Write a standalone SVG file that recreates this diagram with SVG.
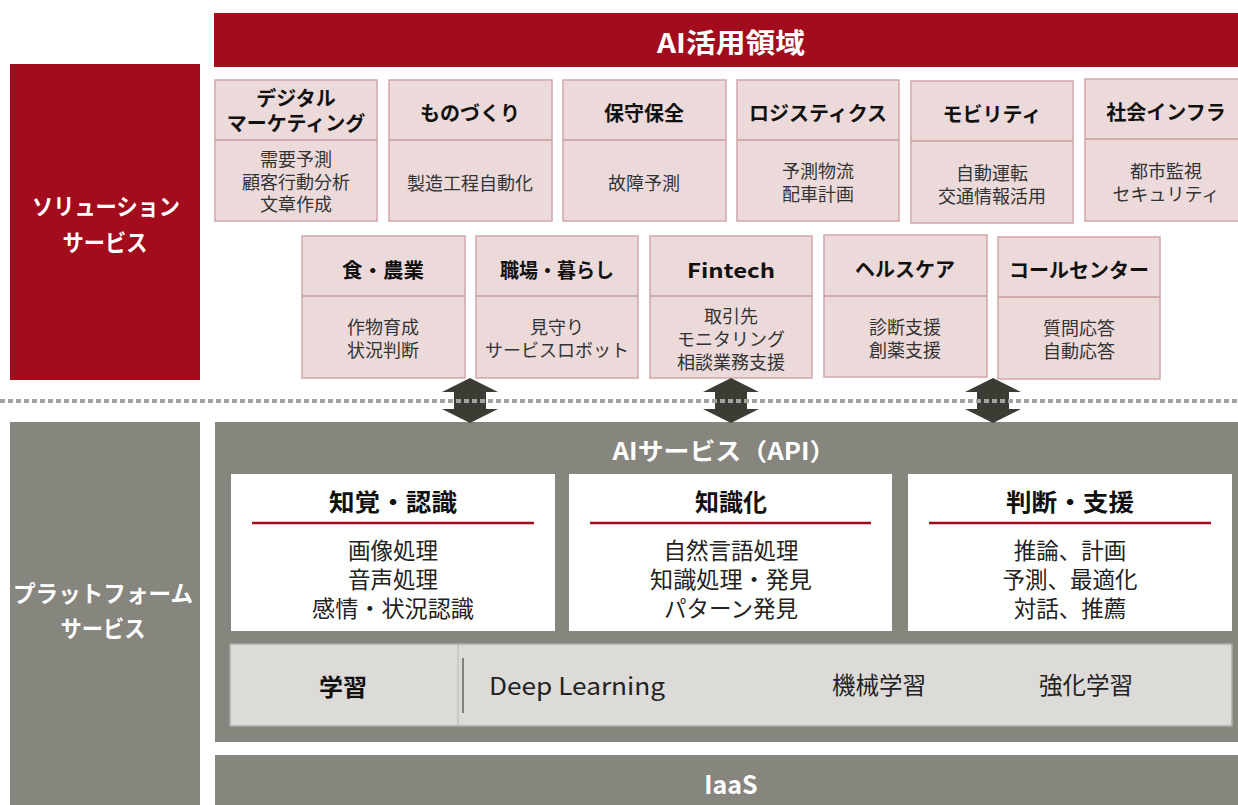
<svg xmlns="http://www.w3.org/2000/svg" width="1238" height="805" viewBox="0 0 1238 805">
<defs>
<style>
text{font-family:"Noto Sans CJK JP","Noto Sans",sans-serif;dominant-baseline:central;text-anchor:middle}
.red{fill:#a20c1c}
.gray{fill:#86857e}
.wt{fill:#fff;font-weight:700}
.card{fill:#ecdadb;stroke:#d1a6a9;stroke-width:1.5}
.div{stroke:#c99c9f;stroke-width:1.5}
.hd{fill:#111;font-weight:700;font-size:20px}
.bd{fill:#333;font-size:18px}
.wb{fill:#fff}
.rl{stroke:#a20c1c;stroke-width:2.5}
.wh{fill:#111;font-weight:700;font-size:24px}
.wi{fill:#222;font-size:22.5px}
.arrow{fill:#3c3c34}
</style>
</defs>
<rect width="1238" height="805" fill="#fff"/>

<g id="top-bar">
<rect class="red" x="214" y="13" width="1024" height="54"/>
<text class="wt" x="731" y="41" font-size="27" textLength="148" lengthAdjust="spacingAndGlyphs">AI活用領域</text>
</g>

<g id="solution-label">
<rect class="red" x="10" y="64" width="190" height="316"/>
<text class="wt" font-size="23"><tspan x="106" y="205" textLength="148" lengthAdjust="spacingAndGlyphs">ソリューション</tspan><tspan x="105" y="241" textLength="85" lengthAdjust="spacingAndGlyphs">サービス</tspan></text>
</g>

<g id="digital-marketing">
<rect class="card" x="215" y="80" width="162" height="141"/>
<line class="div" x1="215" y1="140" x2="377" y2="140"/>
<text class="hd"><tspan x="296" y="97">デジタル</tspan><tspan x="296" y="122">マーケティング</tspan></text>
<text class="bd"><tspan x="296" y="158">需要予測</tspan><tspan x="296" y="181">顧客行動分析</tspan><tspan x="296" y="203">文章作成</tspan></text>
</g>
<g id="monozukuri">
<rect class="card" x="389" y="80" width="163" height="141"/>
<line class="div" x1="389" y1="140" x2="552" y2="140"/>
<text class="hd" x="470" y="112">ものづくり</text>
<text class="bd" x="470" y="182">製造工程自動化</text>
</g>
<g id="maintenance">
<rect class="card" x="563" y="80" width="163" height="141"/>
<line class="div" x1="563" y1="140" x2="726" y2="140"/>
<text class="hd" x="644" y="112">保守保全</text>
<text class="bd" x="644" y="182">故障予測</text>
</g>
<g id="logistics">
<rect class="card" x="737" y="80" width="162" height="141"/>
<line class="div" x1="737" y1="140" x2="899" y2="140"/>
<text class="hd" x="818" y="112">ロジスティクス</text>
<text class="bd"><tspan x="818" y="170">予測物流</tspan><tspan x="818" y="193">配車計画</tspan></text>
</g>
<g id="mobility">
<rect class="card" x="911" y="81" width="162" height="142"/>
<line class="div" x1="911" y1="141" x2="1073" y2="141"/>
<text class="hd" x="992" y="113">モビリティ</text>
<text class="bd"><tspan x="992" y="172">自動運転</tspan><tspan x="992" y="195">交通情報活用</tspan></text>
</g>
<g id="social-infra">
<rect class="card" x="1085" y="79" width="162" height="142"/>
<line class="div" x1="1085" y1="139" x2="1247" y2="139"/>
<text class="hd" x="1166" y="111">社会インフラ</text>
<text class="bd"><tspan x="1166" y="170">都市監視</tspan><tspan x="1166" y="193">セキュリティ</tspan></text>
</g>

<g id="food-agri">
<rect class="card" x="302" y="236" width="163" height="142"/>
<line class="div" x1="302" y1="296" x2="465" y2="296"/>
<text class="hd" x="383" y="269" textLength="82" lengthAdjust="spacingAndGlyphs">食・農業</text>
<text class="bd"><tspan x="383" y="326">作物育成</tspan><tspan x="383" y="349">状況判断</tspan></text>
</g>
<g id="workplace">
<rect class="card" x="476" y="236" width="162" height="142"/>
<line class="div" x1="476" y1="296" x2="638" y2="296"/>
<text class="hd" x="557" y="269" textLength="114" lengthAdjust="spacingAndGlyphs">職場・暮らし</text>
<text class="bd"><tspan x="557" y="326">見守り</tspan><tspan x="557" y="349">サービスロボット</tspan></text>
</g>
<g id="fintech">
<rect class="card" x="650" y="236" width="162" height="142"/>
<line class="div" x1="650" y1="296" x2="812" y2="296"/>
<text class="hd" x="731" y="269" font-size="22" textLength="88" lengthAdjust="spacingAndGlyphs">Fintech</text>
<text class="bd"><tspan x="731" y="315">取引先</tspan><tspan x="731" y="338">モニタリング</tspan><tspan x="731" y="361">相談業務支援</tspan></text>
</g>
<g id="healthcare">
<rect class="card" x="824" y="235" width="163" height="142"/>
<line class="div" x1="824" y1="296" x2="987" y2="296"/>
<text class="hd" x="905" y="268">ヘルスケア</text>
<text class="bd"><tspan x="905" y="326">診断支援</tspan><tspan x="905" y="349">創薬支援</tspan></text>
</g>
<g id="call-center">
<rect class="card" x="998" y="237" width="162" height="142"/>
<line class="div" x1="998" y1="297" x2="1160" y2="297"/>
<text class="hd" x="1079" y="269">コールセンター</text>
<text class="bd"><tspan x="1079" y="327">質問応答</tspan><tspan x="1079" y="350">自動応答</tspan></text>
</g>

<g id="platform-label">
<rect class="gray" x="10" y="422" width="190" height="383"/>
<text class="wt" font-size="23"><tspan x="103" y="592" textLength="180" lengthAdjust="spacingAndGlyphs">プラットフォーム</tspan><tspan x="103" y="627" textLength="85" lengthAdjust="spacingAndGlyphs">サービス</tspan></text>
</g>

<g id="ai-services">
<rect class="gray" x="215" y="422" width="1023" height="320"/>
<text class="wt" x="724" y="449" font-size="24" textLength="223" lengthAdjust="spacingAndGlyphs">AIサービス（API）</text>
</g>

<g id="perception">
<rect class="wb" x="231" y="474" width="324" height="157"/>
<text class="wh" x="393" y="500" textLength="128" lengthAdjust="spacingAndGlyphs">知覚・認識</text>
<line class="rl" x1="252" y1="523" x2="534" y2="523"/>
<text class="wi"><tspan x="393" y="549">画像処理</tspan><tspan x="393" y="578">音声処理</tspan><tspan x="393" y="607" textLength="162" lengthAdjust="spacingAndGlyphs">感情・状況認識</tspan></text>
</g>
<g id="knowledge">
<rect class="wb" x="569" y="474" width="323" height="157"/>
<text class="wh" x="731" y="500">知識化</text>
<line class="rl" x1="590" y1="523" x2="871" y2="523"/>
<text class="wi"><tspan x="731" y="549">自然言語処理</tspan><tspan x="731" y="578" textLength="162" lengthAdjust="spacingAndGlyphs">知識処理・発見</tspan><tspan x="731" y="607">パターン発見</tspan></text>
</g>
<g id="judgement">
<rect class="wb" x="908" y="474" width="324" height="157"/>
<text class="wh" x="1070" y="500" textLength="128" lengthAdjust="spacingAndGlyphs">判断・支援</text>
<line class="rl" x1="929" y1="523" x2="1211" y2="523"/>
<text class="wi"><tspan x="1070" y="549">推論、計画</tspan><tspan x="1070" y="578">予測、最適化</tspan><tspan x="1070" y="607">対話、推薦</tspan></text>
</g>

<g id="learning">
<rect x="230" y="644" width="1002" height="82" fill="#dcdbd7" stroke="#adaca6" stroke-width="1.5"/>
<line x1="458" y1="645" x2="458" y2="725" stroke="#b9b8b2" stroke-width="1"/>
<line x1="463" y1="658" x2="463" y2="713" stroke="#444" stroke-width="1.2"/>
<text x="343" y="685" font-size="24" font-weight="700" fill="#111">学習</text>
<text x="489" y="684" font-size="24" fill="#222" style="text-anchor:start" textLength="176" lengthAdjust="spacingAndGlyphs">Deep Learning</text>
<text x="879" y="684" font-size="23.5" fill="#222">機械学習</text>
<text x="1086" y="684" font-size="23.5" fill="#222">強化学習</text>
</g>

<g id="iaas">
<rect class="gray" x="215" y="755" width="1023" height="50"/>
<text class="wt" x="731" y="783" font-size="25">IaaS</text>
</g>

<g id="connectors">
<polygon class="arrow" points="470,378 498,392 486,392 486,409 498,409 470,423 442,409 454,409 454,392 442,392"/>
<polygon class="arrow" points="731,378 759,392 747,392 747,409 759,409 731,423 703,409 715,409 715,392 703,392"/>
<polygon class="arrow" points="993,378 1021,392 1009,392 1009,409 1021,409 993,423 965,409 977,409 977,392 965,392"/>
<line x1="0" y1="401" x2="1238" y2="401" stroke="#a3a3a0" stroke-width="4" stroke-dasharray="5 3"/>
</g>
</svg>
